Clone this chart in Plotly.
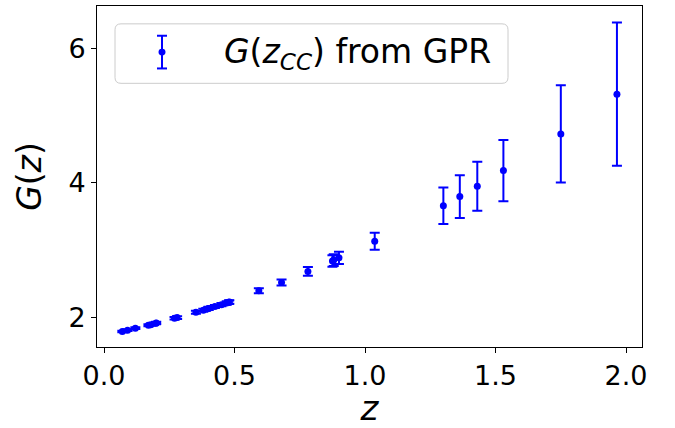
import plotly.graph_objects as go

# ---- data ----
z_cc = [0.07, 0.09, 0.12, 0.17, 0.179, 0.199, 0.2, 0.27, 0.28, 0.352,
        0.3802, 0.4, 0.4004, 0.4247, 0.4497, 0.47, 0.4783, 0.48, 0.593, 0.68,
        0.781, 0.875, 0.88, 0.9, 1.037, 1.3, 1.363, 1.43, 1.53, 1.75, 1.965]
G_vals = [1.788, 1.808, 1.838, 1.880, 1.890, 1.912, 1.915, 1.985, 1.995, 2.075,
          2.105, 2.130, 2.132, 2.160, 2.188, 2.212, 2.222, 2.226, 2.394, 2.517,
          2.683, 2.838, 2.852, 2.885, 3.132, 3.660, 3.797, 3.950, 4.184, 4.730, 5.322]
G_err = [0.012, 0.012, 0.013, 0.015, 0.015, 0.017, 0.017, 0.019, 0.020, 0.022,
         0.022, 0.023, 0.023, 0.024, 0.025, 0.026, 0.026, 0.026, 0.038, 0.045,
         0.065, 0.085, 0.088, 0.092, 0.128, 0.272, 0.318, 0.365, 0.455, 0.724, 1.066]

x_ticks = [0.0, 0.5, 1.0, 1.5, 2.0]
x_tick_labels = ["0.0", "0.5", "1.0", "1.5", "2.0"]
y_ticks = [2, 4, 6]
y_tick_labels = ["2", "4", "6"]
legend_label = "<i>G</i>(<i>z</i><sub><i>CC</i></sub>) from GPR"

# ---- layout geometry (pixels) ----
W, H = 675, 428
L, R, T, B = 97, 642, 5, 349
BLUE = "#0000ff"
FONT = "DejaVu Sans"


def px_x(p):
    return (p - L) / (R - L)


def px_y(p):
    return (B - p) / (B - T)


fig = go.Figure()
fig.add_trace(go.Scatter(
    x=z_cc, y=G_vals, mode="markers",
    marker=dict(color=BLUE, size=7, line=dict(width=0)),
    error_y=dict(type="data", array=G_err, visible=True,
                 color=BLUE, thickness=2, width=5),
    showlegend=False,
))

# manual legend box (rounded rectangle)
x0, x1, y0, y1, r = 115, 508, 23, 83, 6
def P(x, y):
    return f"{px_x(x):.5f},{px_y(y):.5f}"
path = (f"M {P(x0 + r, y0)} L {P(x1 - r, y0)} Q {P(x1, y0)} {P(x1, y0 + r)} "
        f"L {P(x1, y1 - r)} Q {P(x1, y1)} {P(x1 - r, y1)} "
        f"L {P(x0 + r, y1)} Q {P(x0, y1)} {P(x0, y1 - r)} "
        f"L {P(x0, y0 + r)} Q {P(x0, y0)} {P(x0 + r, y0)} Z")
shapes = [dict(type="path", xref="paper", yref="paper", path=path,
               line=dict(color="#cccccc", width=1), fillcolor="rgba(255,255,255,0.8)")]
# legend icon: error bar with dot
ix, iy0, iy1, cap = 162, 35, 68, 5
shapes += [
    dict(type="line", xref="paper", yref="paper", x0=px_x(ix), x1=px_x(ix),
         y0=px_y(iy0), y1=px_y(iy1), line=dict(color=BLUE, width=2)),
    dict(type="line", xref="paper", yref="paper", x0=px_x(ix - cap), x1=px_x(ix + cap),
         y0=px_y(iy0), y1=px_y(iy0), line=dict(color=BLUE, width=2)),
    dict(type="line", xref="paper", yref="paper", x0=px_x(ix - cap), x1=px_x(ix + cap),
         y0=px_y(iy1), y1=px_y(iy1), line=dict(color=BLUE, width=2)),
    dict(type="circle", xref="paper", yref="paper",
         x0=px_x(ix - 3.5), x1=px_x(ix + 3.5), y0=px_y(51.5 - 3.5), y1=px_y(51.5 + 3.5),
         line=dict(width=0), fillcolor=BLUE),
]

fig.update_layout(
    width=W, height=H,
    margin=dict(l=L, r=W - R, t=T, b=H - B),
    paper_bgcolor="white", plot_bgcolor="white",
    font=dict(family=FONT, color="black"),
    shapes=shapes,
    annotations=[dict(xref="paper", yref="paper", x=px_x(222), y=px_y(53),
                      xanchor="left", yanchor="middle", showarrow=False,
                      text=legend_label, font=dict(family=FONT, size=33, color="black"))],
    xaxis=dict(range=[-0.027, 2.061], tickvals=x_ticks, ticktext=x_tick_labels,
               showgrid=False, zeroline=False, showline=True, linecolor="black",
               linewidth=1, mirror=True, ticks="outside", ticklen=5, tickwidth=1,
               tickcolor="black", tickfont=dict(size=27),
               title=dict(text="<i>z</i>", font=dict(size=34), standoff=8)),
    yaxis=dict(range=[1.557, 6.635], tickvals=y_ticks, ticktext=y_tick_labels,
               showgrid=False, zeroline=False, showline=True, linecolor="black",
               linewidth=1, mirror=True, ticks="outside", ticklen=5, tickwidth=1,
               tickcolor="black", tickfont=dict(size=27),
               title=dict(text="<i>G</i>(<i>z</i>)", font=dict(size=33), standoff=16)),
)

fig.write_html("out.html")
